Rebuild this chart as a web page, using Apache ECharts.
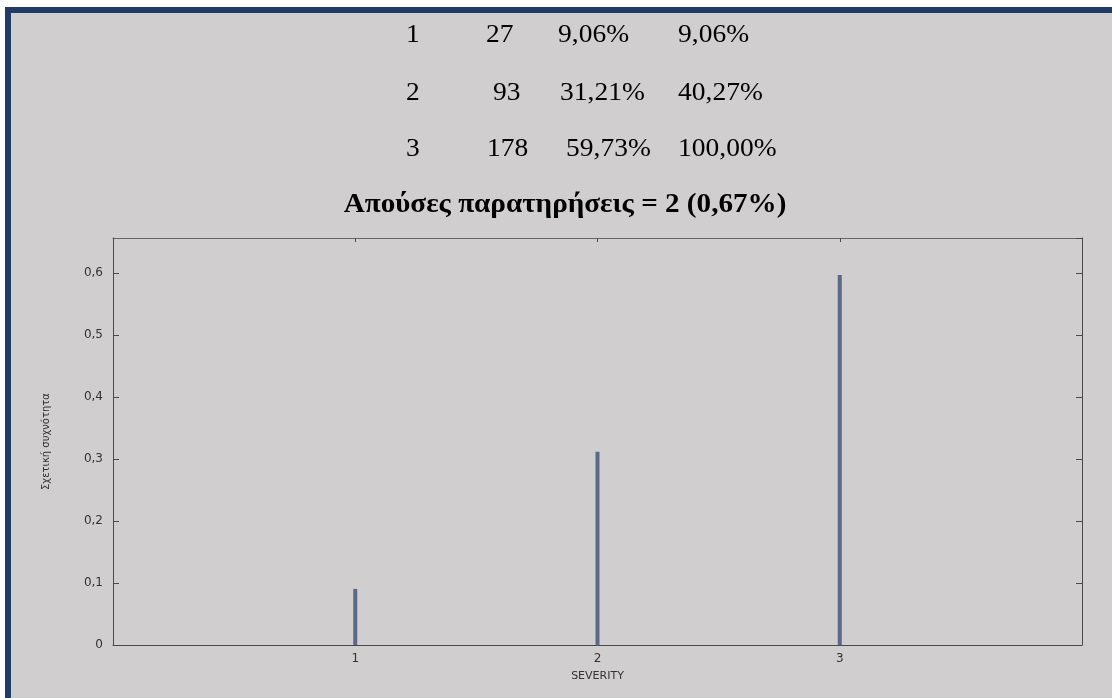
<!DOCTYPE html>
<html>
<head>
<meta charset="utf-8">
<script src="https://cdn.jsdelivr.net/npm/echarts@6/dist/echarts.min.js"></script>
<style>
  html, body { margin: 0; padding: 0; background: #ffffff; width: 1112px; height: 698px; overflow: hidden; }
  #frame { position: absolute; left: 5px; top: 7px; width: 1107px; height: 691px;
           border-left: 6px solid #223a66; border-top: 6px solid #223a66; background: #d0cecf; box-sizing: border-box; }
  #chart { position: absolute; left: 0; top: 0; width: 1112px; height: 698px; }
</style>
</head>
<body>
<div id="frame"></div>
<div id="chart"></div>
<script>
// ---- data ----
const categories = [1, 2, 3];
const counts = [27, 93, 178];
const percents = ['9,06%', '31,21%', '59,73%'];
const cumulative = ['9,06%', '40,27%', '100,00%'];
const relFreq = [0.0906, 0.3121, 0.5973];
const missingText = 'Απούσες παρατηρήσεις = 2 (0,67%)';
const xTickValues = [1, 2, 3];
const yAxisName = 'Σχετική συχνότητα';
const xAxisName = 'SEVERITY';

// ---- layout of the summary table (positions only) ----
const rowY = [35, 93, 149];
const colX = [
  [406, 406, 406],
  [486, 493, 487],
  [558, 560, 566],
  [678, 678, 678]
];

const tableFont = '25px "Liberation Serif", "Times New Roman", serif';
const graphics = [];
categories.forEach((c, i) => {
  const cells = [String(c), String(counts[i]), percents[i], cumulative[i]];
  cells.forEach((t, j) => {
    graphics.push({
      type: 'text', x: colX[j][i], y: rowY[i], scaleX: 1.1, z: 10,
      style: { text: t, font: tableFont, fill: '#000000', align: 'left', verticalAlign: 'middle' }
    });
  });
});
graphics.push({
  type: 'text', x: 565, y: 205, scaleX: 1.04, z: 10,
  style: { text: missingText, font: 'bold 28px "Liberation Serif", "Times New Roman", serif',
           fill: '#000000', align: 'center', verticalAlign: 'middle' }
});

const axisLineStyle = { color: '#4a4a4a', width: 1 };
const labelFont = { color: '#333333', fontFamily: 'DejaVu Sans', fontSize: 12 };
const yMax = 0.657;

const chart = echarts.init(document.getElementById('chart'), null, { renderer: 'canvas' });
chart.setOption({
  backgroundColor: 'transparent',
  animation: false,
  graphic: graphics,
  grid: { left: 113, top: 238, right: 30, bottom: 53, containLabel: false },
  xAxis: [
    {
      type: 'value', min: 0, max: 4, interval: 1, position: 'bottom',
      name: xAxisName, nameLocation: 'middle', nameGap: 26,
      nameTextStyle: { color: '#333333', fontFamily: 'DejaVu Sans', fontSize: 11 },
      axisLine: { show: true, onZero: false, lineStyle: axisLineStyle },
      axisTick: { show: true, inside: true, length: 5, lineStyle: axisLineStyle },
      axisLabel: Object.assign({ margin: 8, showMinLabel: false, showMaxLabel: false,
        formatter: v => (xTickValues.indexOf(v) >= 0 ? String(v) : '') }, labelFont),
      splitLine: { show: false }
    },
    {
      type: 'value', min: 0, max: 4, interval: 1, position: 'top',
      axisLine: { show: true, onZero: false, lineStyle: { color: '#666666', width: 1 } },
      axisTick: { show: true, inside: true, length: 4, lineStyle: axisLineStyle },
      axisLabel: { show: false },
      splitLine: { show: false }
    }
  ],
  yAxis: [
    {
      type: 'value', min: 0, max: yMax, interval: 0.1, position: 'left',
      name: yAxisName, nameLocation: 'middle', nameGap: 62, nameRotate: 90,
      nameTextStyle: { color: '#333333', fontFamily: 'DejaVu Sans', fontSize: 10 },
      axisLine: { show: true, onZero: false, lineStyle: axisLineStyle },
      axisTick: { show: true, inside: true, length: 6, lineStyle: axisLineStyle },
      axisLabel: Object.assign({ margin: 10, showMaxLabel: false,
        formatter: v => (v > 0.65 ? '' : (v === 0 ? '0' : v.toFixed(1).replace('.', ','))) }, labelFont),
      splitLine: { show: false }
    },
    {
      type: 'value', min: 0, max: yMax, interval: 0.1, position: 'right',
      axisLine: { show: true, onZero: false, lineStyle: axisLineStyle },
      axisTick: { show: true, inside: true, length: 6, lineStyle: axisLineStyle },
      axisLabel: { show: false },
      splitLine: { show: false }
    }
  ],
  series: [
    {
      type: 'bar', xAxisIndex: 0, yAxisIndex: 0, barWidth: 4,
      itemStyle: { color: '#5a6987' },
      data: categories.map((c, i) => [c, relFreq[i]])
    }
  ]
});
</script>
</body>
</html>
